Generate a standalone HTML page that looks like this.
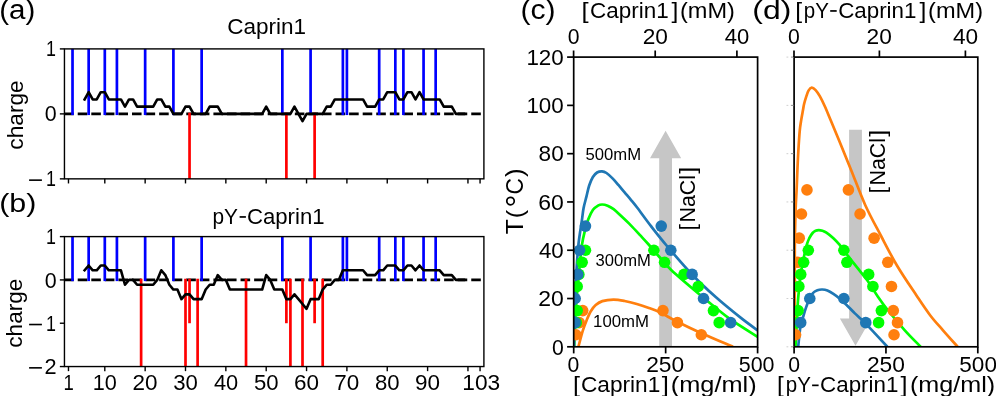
<!DOCTYPE html>
<html><head><meta charset="utf-8"><title>figure</title>
<style>
html,body{margin:0;padding:0;background:#fff;}
svg{display:block;will-change:transform;}
text{font-family:"Liberation Sans", sans-serif;fill:#000;}
</style></head>
<body>
<svg width="996" height="396" viewBox="0 0 996 396">
<rect width="996" height="396" fill="#fff"/>
<line x1="64.15" x2="483.90" y1="113.88" y2="113.88" stroke="#000" stroke-width="2.6" stroke-dasharray="9.57 4.0"/>
<line x1="72.52" x2="72.52" y1="115.08" y2="48.90" stroke="#0000ff" stroke-width="2.7"/>
<line x1="88.66" x2="88.66" y1="115.08" y2="48.90" stroke="#0000ff" stroke-width="2.7"/>
<line x1="104.80" x2="104.80" y1="115.08" y2="48.90" stroke="#0000ff" stroke-width="2.7"/>
<line x1="116.91" x2="116.91" y1="115.08" y2="48.90" stroke="#0000ff" stroke-width="2.7"/>
<line x1="145.15" x2="145.15" y1="115.08" y2="48.90" stroke="#0000ff" stroke-width="2.7"/>
<line x1="173.40" x2="173.40" y1="115.08" y2="48.90" stroke="#0000ff" stroke-width="2.7"/>
<line x1="189.54" x2="189.54" y1="112.67" y2="178.85" stroke="#ff0000" stroke-width="2.7"/>
<line x1="201.64" x2="201.64" y1="115.08" y2="48.90" stroke="#0000ff" stroke-width="2.7"/>
<line x1="282.34" x2="282.34" y1="115.08" y2="48.90" stroke="#0000ff" stroke-width="2.7"/>
<line x1="286.38" x2="286.38" y1="112.67" y2="178.85" stroke="#ff0000" stroke-width="2.7"/>
<line x1="310.59" x2="310.59" y1="115.08" y2="48.90" stroke="#0000ff" stroke-width="2.7"/>
<line x1="314.62" x2="314.62" y1="112.67" y2="178.85" stroke="#ff0000" stroke-width="2.7"/>
<line x1="342.87" x2="342.87" y1="115.08" y2="48.90" stroke="#0000ff" stroke-width="2.7"/>
<line x1="346.90" x2="346.90" y1="115.08" y2="48.90" stroke="#0000ff" stroke-width="2.7"/>
<line x1="379.18" x2="379.18" y1="115.08" y2="48.90" stroke="#0000ff" stroke-width="2.7"/>
<line x1="395.32" x2="395.32" y1="115.08" y2="48.90" stroke="#0000ff" stroke-width="2.7"/>
<line x1="403.39" x2="403.39" y1="115.08" y2="48.90" stroke="#0000ff" stroke-width="2.7"/>
<line x1="423.56" x2="423.56" y1="115.08" y2="48.90" stroke="#0000ff" stroke-width="2.7"/>
<line x1="435.67" x2="435.67" y1="115.08" y2="48.90" stroke="#0000ff" stroke-width="2.7"/>
<path d="M84.62,99.44 L88.66,92.22 L92.70,99.44 L96.73,99.44 L100.77,92.22 L104.80,92.22 L108.84,99.44 L112.87,99.44 L116.91,99.44 L120.94,99.44 L124.98,106.66 L129.01,99.44 L133.05,99.44 L137.08,106.66 L141.12,106.66 L145.15,106.66 L149.19,106.66 L153.22,106.66 L157.25,99.44 L161.29,99.44 L165.32,106.66 L169.36,106.66 L173.40,113.88 L177.43,113.88 L181.47,113.88 L185.50,106.66 L189.54,106.66 L193.57,113.88 L197.61,113.88 L201.64,113.88 L205.68,113.88 L209.71,106.66 L213.75,106.66 L217.78,106.66 L221.81,113.88 L225.85,113.88 L229.88,113.88 L233.92,113.88 L237.95,113.88 L241.99,113.88 L246.03,113.88 L250.06,113.88 L254.10,113.88 L258.13,113.88 L262.17,113.88 L266.20,106.66 L270.24,113.88 L274.27,113.88 L278.31,113.88 L282.34,113.88 L286.38,113.88 L290.41,113.88 L294.44,106.66 L298.48,113.88 L302.51,121.09 L306.55,113.88 L310.59,113.88 L314.62,113.88 L318.66,113.88 L322.69,113.88 L326.73,106.66 L330.76,106.66 L334.80,99.44 L338.83,99.44 L342.87,99.44 L346.90,99.44 L350.94,99.44 L354.97,99.44 L359.00,99.44 L363.04,99.44 L367.07,106.66 L371.11,106.66 L375.14,106.66 L379.18,99.44 L383.21,99.44 L387.25,92.22 L391.29,92.22 L395.32,92.22 L399.36,99.44 L403.39,99.44 L407.43,92.22 L411.46,92.22 L415.50,99.44 L419.53,92.22 L423.56,99.44 L427.60,99.44 L431.63,99.44 L435.67,99.44 L439.70,99.44 L443.74,106.66 L447.77,106.66 L451.81,106.66 L455.85,113.88 L459.88,113.88 L463.92,113.88" fill="none" stroke="#000" stroke-width="2.6" stroke-linejoin="round" stroke-linecap="square"/>
<rect x="64.45" y="48.90" width="419.45" height="129.95" fill="none" stroke="#000" stroke-width="1.4"/>
<line x1="59.85" x2="64.45" y1="48.90" y2="48.90" stroke="#000" stroke-width="1.4"/>
<line x1="59.85" x2="64.45" y1="113.88" y2="113.88" stroke="#000" stroke-width="1.4"/>
<line x1="59.85" x2="64.45" y1="178.85" y2="178.85" stroke="#000" stroke-width="1.4"/>
<line x1="68.48" x2="68.48" y1="178.85" y2="183.45" stroke="#000" stroke-width="1.4"/>
<line x1="104.80" x2="104.80" y1="178.85" y2="183.45" stroke="#000" stroke-width="1.4"/>
<line x1="145.15" x2="145.15" y1="178.85" y2="183.45" stroke="#000" stroke-width="1.4"/>
<line x1="185.50" x2="185.50" y1="178.85" y2="183.45" stroke="#000" stroke-width="1.4"/>
<line x1="225.85" x2="225.85" y1="178.85" y2="183.45" stroke="#000" stroke-width="1.4"/>
<line x1="266.20" x2="266.20" y1="178.85" y2="183.45" stroke="#000" stroke-width="1.4"/>
<line x1="306.55" x2="306.55" y1="178.85" y2="183.45" stroke="#000" stroke-width="1.4"/>
<line x1="346.90" x2="346.90" y1="178.85" y2="183.45" stroke="#000" stroke-width="1.4"/>
<line x1="387.25" x2="387.25" y1="178.85" y2="183.45" stroke="#000" stroke-width="1.4"/>
<line x1="427.60" x2="427.60" y1="178.85" y2="183.45" stroke="#000" stroke-width="1.4"/>
<line x1="467.95" x2="467.95" y1="178.85" y2="183.45" stroke="#000" stroke-width="1.4"/>
<line x1="480.06" x2="480.06" y1="178.85" y2="183.45" stroke="#000" stroke-width="1.4"/>
<line x1="64.15" x2="483.90" y1="279.92" y2="279.92" stroke="#000" stroke-width="2.6" stroke-dasharray="9.57 4.0"/>
<line x1="72.52" x2="72.52" y1="281.12" y2="236.60" stroke="#0000ff" stroke-width="2.7"/>
<line x1="88.66" x2="88.66" y1="281.12" y2="236.60" stroke="#0000ff" stroke-width="2.7"/>
<line x1="104.80" x2="104.80" y1="281.12" y2="236.60" stroke="#0000ff" stroke-width="2.7"/>
<line x1="116.91" x2="116.91" y1="281.12" y2="236.60" stroke="#0000ff" stroke-width="2.7"/>
<line x1="141.12" x2="141.12" y1="278.72" y2="366.55" stroke="#ff0000" stroke-width="2.7"/>
<line x1="145.15" x2="145.15" y1="281.12" y2="236.60" stroke="#0000ff" stroke-width="2.7"/>
<line x1="173.40" x2="173.40" y1="281.12" y2="236.60" stroke="#0000ff" stroke-width="2.7"/>
<line x1="185.50" x2="185.50" y1="278.72" y2="366.55" stroke="#ff0000" stroke-width="2.7"/>
<line x1="189.54" x2="189.54" y1="278.72" y2="323.23" stroke="#ff0000" stroke-width="2.7"/>
<line x1="197.61" x2="197.61" y1="278.72" y2="366.55" stroke="#ff0000" stroke-width="2.7"/>
<line x1="201.64" x2="201.64" y1="281.12" y2="236.60" stroke="#0000ff" stroke-width="2.7"/>
<line x1="246.03" x2="246.03" y1="278.72" y2="366.55" stroke="#ff0000" stroke-width="2.7"/>
<line x1="282.34" x2="282.34" y1="281.12" y2="236.60" stroke="#0000ff" stroke-width="2.7"/>
<line x1="286.38" x2="286.38" y1="278.72" y2="323.23" stroke="#ff0000" stroke-width="2.7"/>
<line x1="290.41" x2="290.41" y1="278.72" y2="366.55" stroke="#ff0000" stroke-width="2.7"/>
<line x1="302.51" x2="302.51" y1="278.72" y2="366.55" stroke="#ff0000" stroke-width="2.7"/>
<line x1="310.59" x2="310.59" y1="281.12" y2="236.60" stroke="#0000ff" stroke-width="2.7"/>
<line x1="314.62" x2="314.62" y1="278.72" y2="323.23" stroke="#ff0000" stroke-width="2.7"/>
<line x1="322.69" x2="322.69" y1="278.72" y2="366.55" stroke="#ff0000" stroke-width="2.7"/>
<line x1="342.87" x2="342.87" y1="281.12" y2="236.60" stroke="#0000ff" stroke-width="2.7"/>
<line x1="346.90" x2="346.90" y1="281.12" y2="236.60" stroke="#0000ff" stroke-width="2.7"/>
<line x1="379.18" x2="379.18" y1="281.12" y2="236.60" stroke="#0000ff" stroke-width="2.7"/>
<line x1="395.32" x2="395.32" y1="281.12" y2="236.60" stroke="#0000ff" stroke-width="2.7"/>
<line x1="403.39" x2="403.39" y1="281.12" y2="236.60" stroke="#0000ff" stroke-width="2.7"/>
<line x1="423.56" x2="423.56" y1="281.12" y2="236.60" stroke="#0000ff" stroke-width="2.7"/>
<line x1="435.67" x2="435.67" y1="281.12" y2="236.60" stroke="#0000ff" stroke-width="2.7"/>
<path d="M84.62,270.29 L88.66,265.48 L92.70,270.29 L96.73,270.29 L100.77,265.48 L104.80,265.48 L108.84,270.29 L112.87,270.29 L116.91,270.29 L120.94,270.29 L124.98,284.73 L129.01,279.92 L133.05,279.92 L137.08,284.73 L141.12,284.73 L145.15,284.73 L149.19,284.73 L153.22,284.73 L157.25,279.92 L161.29,270.29 L165.32,275.10 L169.36,284.73 L173.40,289.54 L177.43,289.54 L181.47,299.17 L185.50,294.36 L189.54,294.36 L193.57,299.17 L197.61,299.17 L201.64,299.17 L205.68,289.54 L209.71,284.73 L213.75,284.73 L217.78,275.10 L221.81,279.92 L225.85,279.92 L229.88,289.54 L233.92,289.54 L237.95,289.54 L241.99,289.54 L246.03,289.54 L250.06,289.54 L254.10,289.54 L258.13,289.54 L262.17,289.54 L266.20,275.10 L270.24,279.92 L274.27,289.54 L278.31,289.54 L282.34,289.54 L286.38,299.17 L290.41,299.17 L294.44,294.36 L298.48,299.17 L302.51,303.98 L306.55,308.79 L310.59,299.17 L314.62,299.17 L318.66,299.17 L322.69,289.54 L326.73,284.73 L330.76,284.73 L334.80,279.92 L338.83,279.92 L342.87,270.29 L346.90,270.29 L350.94,270.29 L354.97,270.29 L359.00,270.29 L363.04,270.29 L367.07,275.10 L371.11,275.10 L375.14,275.10 L379.18,270.29 L383.21,270.29 L387.25,265.48 L391.29,265.48 L395.32,265.48 L399.36,270.29 L403.39,270.29 L407.43,265.48 L411.46,265.48 L415.50,270.29 L419.53,265.48 L423.56,270.29 L427.60,270.29 L431.63,270.29 L435.67,270.29 L439.70,270.29 L443.74,275.10 L447.77,275.10 L451.81,275.10 L455.85,279.92 L459.88,279.92 L463.92,279.92" fill="none" stroke="#000" stroke-width="2.6" stroke-linejoin="round" stroke-linecap="square"/>
<rect x="64.45" y="236.60" width="419.45" height="129.95" fill="none" stroke="#000" stroke-width="1.4"/>
<line x1="59.85" x2="64.45" y1="236.60" y2="236.60" stroke="#000" stroke-width="1.4"/>
<line x1="59.85" x2="64.45" y1="279.92" y2="279.92" stroke="#000" stroke-width="1.4"/>
<line x1="59.85" x2="64.45" y1="323.23" y2="323.23" stroke="#000" stroke-width="1.4"/>
<line x1="59.85" x2="64.45" y1="366.55" y2="366.55" stroke="#000" stroke-width="1.4"/>
<line x1="68.48" x2="68.48" y1="366.55" y2="371.15" stroke="#000" stroke-width="1.4"/>
<line x1="104.80" x2="104.80" y1="366.55" y2="371.15" stroke="#000" stroke-width="1.4"/>
<line x1="145.15" x2="145.15" y1="366.55" y2="371.15" stroke="#000" stroke-width="1.4"/>
<line x1="185.50" x2="185.50" y1="366.55" y2="371.15" stroke="#000" stroke-width="1.4"/>
<line x1="225.85" x2="225.85" y1="366.55" y2="371.15" stroke="#000" stroke-width="1.4"/>
<line x1="266.20" x2="266.20" y1="366.55" y2="371.15" stroke="#000" stroke-width="1.4"/>
<line x1="306.55" x2="306.55" y1="366.55" y2="371.15" stroke="#000" stroke-width="1.4"/>
<line x1="346.90" x2="346.90" y1="366.55" y2="371.15" stroke="#000" stroke-width="1.4"/>
<line x1="387.25" x2="387.25" y1="366.55" y2="371.15" stroke="#000" stroke-width="1.4"/>
<line x1="427.60" x2="427.60" y1="366.55" y2="371.15" stroke="#000" stroke-width="1.4"/>
<line x1="467.95" x2="467.95" y1="366.55" y2="371.15" stroke="#000" stroke-width="1.4"/>
<line x1="480.06" x2="480.06" y1="366.55" y2="371.15" stroke="#000" stroke-width="1.4"/>
<rect x="29.1" y="179.35" width="12.8" height="1.6" fill="#000"/>
<rect x="29.1" y="323.73" width="12.8" height="1.6" fill="#000"/>
<rect x="29.1" y="367.05" width="12.8" height="1.6" fill="#000"/>
<rect x="239.60" y="216.10" width="6.30" height="1.7" fill="#000"/>
<clipPath id="clipc"><rect x="573.70" y="57.10" width="183.90" height="289.70"/></clipPath>
<g clip-path="url(#clipc)">
<polygon points="659.20,348.80 659.20,158.20 650.00,158.20 665.60,130.80 681.20,158.20 672.00,158.20 672.00,348.80" fill="#c6c6c6"/>
<path d="M578.40,346.80 C579.13,344.10 581.40,335.10 582.80,330.60 C584.20,326.10 585.47,323.03 586.80,319.80 C588.13,316.57 589.32,313.65 590.80,311.20 C592.28,308.75 593.77,306.78 595.70,305.10 C597.63,303.42 599.43,302.02 602.40,301.10 C605.37,300.18 609.80,299.62 613.50,299.60 C617.20,299.58 620.72,300.27 624.60,301.00 C628.48,301.73 632.75,302.83 636.80,304.00 C640.85,305.17 645.03,306.60 648.90,308.00 C652.77,309.40 655.27,310.10 660.00,312.40 C664.73,314.70 670.48,318.37 677.30,321.80 C684.12,325.23 691.62,328.83 700.90,333.00 C710.18,337.17 727.65,344.50 733.00,346.80" fill="none" stroke="#ff7f0e" stroke-width="2.7"/>
<path d="M574.20,346.80 C574.37,342.33 574.82,327.80 575.20,320.00 C575.58,312.20 575.97,306.67 576.50,300.00 C577.03,293.33 577.78,286.67 578.40,280.00 C579.02,273.33 579.58,266.00 580.20,260.00 C580.82,254.00 581.38,248.60 582.10,244.00 C582.82,239.40 583.47,236.52 584.50,232.40 C585.53,228.28 586.88,223.07 588.30,219.30 C589.72,215.53 591.40,212.07 593.00,209.80 C594.60,207.53 596.38,206.58 597.90,205.70 C599.42,204.82 600.48,204.50 602.10,204.50 C603.72,204.50 605.68,204.92 607.60,205.70 C609.52,206.48 611.38,207.52 613.60,209.20 C615.82,210.88 618.07,213.15 620.90,215.80 C623.73,218.45 627.37,221.83 630.60,225.10 C633.83,228.37 637.37,232.25 640.30,235.40 C643.23,238.55 645.08,240.48 648.20,244.00 C651.32,247.52 655.17,252.17 659.00,256.50 C662.83,260.83 664.53,263.75 671.20,270.00 C677.87,276.25 689.40,285.97 699.00,294.00 C708.60,302.03 719.03,311.07 728.80,318.20 C738.57,325.33 752.80,333.70 757.60,336.80" fill="none" stroke="#00ff00" stroke-width="2.7"/>
<path d="M574.00,346.80 C574.17,339.00 574.58,312.80 575.00,300.00 C575.42,287.20 575.92,279.33 576.50,270.00 C577.08,260.67 577.62,252.17 578.50,244.00 C579.38,235.83 580.95,227.00 581.80,221.00 C582.65,215.00 582.82,212.10 583.60,208.00 C584.38,203.90 585.57,200.15 586.50,196.40 C587.43,192.65 588.13,188.73 589.20,185.50 C590.27,182.27 591.58,179.17 592.90,177.00 C594.22,174.83 595.58,173.45 597.10,172.50 C598.62,171.55 600.43,171.22 602.00,171.30 C603.57,171.38 604.70,171.78 606.50,173.00 C608.30,174.22 610.78,176.57 612.80,178.60 C614.82,180.63 616.63,182.90 618.60,185.20 C620.57,187.50 622.58,190.00 624.60,192.40 C626.62,194.80 628.58,197.03 630.70,199.60 C632.82,202.17 633.92,203.38 637.30,207.80 C640.68,212.22 646.05,219.73 651.00,226.10 C655.95,232.47 660.20,237.98 667.00,246.00 C673.80,254.02 683.63,265.65 691.80,274.20 C699.97,282.75 707.82,290.02 716.00,297.30 C724.18,304.58 733.97,312.40 740.90,317.90 C747.83,323.40 754.82,328.23 757.60,330.30" fill="none" stroke="#1f77b4" stroke-width="2.7"/>
<circle cx="582.71" cy="310.59" r="5.8" fill="#ff7f0e"/>
<circle cx="579.22" cy="322.66" r="5.8" fill="#ff7f0e"/>
<circle cx="575.91" cy="334.73" r="5.8" fill="#ff7f0e"/>
<circle cx="585.47" cy="250.23" r="5.8" fill="#00ff00"/>
<circle cx="582.16" cy="262.30" r="5.8" fill="#00ff00"/>
<circle cx="578.85" cy="274.38" r="5.8" fill="#00ff00"/>
<circle cx="577.19" cy="286.45" r="5.8" fill="#00ff00"/>
<circle cx="577.19" cy="310.59" r="5.8" fill="#00ff00"/>
<circle cx="576.27" cy="322.66" r="5.8" fill="#00ff00"/>
<circle cx="585.47" cy="226.09" r="5.8" fill="#1f77b4"/>
<circle cx="579.58" cy="250.23" r="5.8" fill="#1f77b4"/>
<circle cx="577.75" cy="274.38" r="5.8" fill="#1f77b4"/>
<circle cx="575.17" cy="298.52" r="5.8" fill="#1f77b4"/>
<circle cx="575.17" cy="322.66" r="5.8" fill="#1f77b4"/>
<circle cx="662.93" cy="310.59" r="5.8" fill="#ff7f0e"/>
<circle cx="677.42" cy="322.66" r="5.8" fill="#ff7f0e"/>
<circle cx="701.33" cy="334.73" r="5.8" fill="#ff7f0e"/>
<circle cx="653.88" cy="250.23" r="5.8" fill="#00ff00"/>
<circle cx="664.55" cy="262.30" r="5.8" fill="#00ff00"/>
<circle cx="684.04" cy="274.38" r="5.8" fill="#00ff00"/>
<circle cx="698.24" cy="286.45" r="5.8" fill="#00ff00"/>
<circle cx="713.46" cy="310.59" r="5.8" fill="#00ff00"/>
<circle cx="719.20" cy="322.66" r="5.8" fill="#00ff00"/>
<circle cx="661.24" cy="226.09" r="5.8" fill="#1f77b4"/>
<circle cx="670.80" cy="250.23" r="5.8" fill="#1f77b4"/>
<circle cx="692.13" cy="274.38" r="5.8" fill="#1f77b4"/>
<circle cx="703.53" cy="298.52" r="5.8" fill="#1f77b4"/>
<circle cx="730.64" cy="322.66" r="5.8" fill="#1f77b4"/>
</g>
<rect x="573.70" y="57.10" width="183.90" height="289.70" fill="none" stroke="#000" stroke-width="1.7"/>
<clipPath id="clipd"><rect x="794.10" y="57.10" width="183.70" height="289.70"/></clipPath>
<g clip-path="url(#clipd)">
<polygon points="849.10,129.80 849.10,318.40 839.90,318.40 855.50,345.80 871.10,318.40 861.90,318.40 861.90,129.80" fill="#c6c6c6"/>
<path d="M794.70,346.70 C794.72,330.58 794.65,272.78 794.80,250.00 C794.95,227.22 795.30,220.00 795.60,210.00 C795.90,200.00 796.30,196.63 796.60,190.00 C796.90,183.37 797.10,176.87 797.40,170.20 C797.70,163.53 798.00,156.67 798.40,150.00 C798.80,143.33 799.33,135.18 799.80,130.20 C800.27,125.22 800.67,123.47 801.20,120.10 C801.73,116.73 802.52,112.68 803.00,110.00 C803.48,107.32 803.53,106.30 804.10,104.00 C804.67,101.70 805.67,98.43 806.40,96.20 C807.13,93.97 807.62,92.03 808.50,90.60 C809.38,89.17 810.52,87.68 811.70,87.60 C812.88,87.52 814.25,88.67 815.60,90.10 C816.95,91.53 818.27,93.50 819.80,96.20 C821.33,98.90 823.00,102.32 824.80,106.30 C826.60,110.28 828.23,114.43 830.60,120.10 C832.97,125.77 835.57,131.95 839.00,140.30 C842.43,148.65 846.82,159.38 851.20,170.20 C855.58,181.02 860.37,194.32 865.30,205.20 C870.23,216.08 875.55,225.50 880.80,235.50 C886.05,245.50 890.85,255.20 896.80,265.20 C902.75,275.20 910.95,287.17 916.50,295.50 C922.05,303.83 925.68,309.40 930.10,315.20 C934.52,321.00 938.42,325.05 943.00,330.30 C947.58,335.55 955.17,343.97 957.60,346.70" fill="none" stroke="#ff7f0e" stroke-width="2.7"/>
<path d="M795.50,346.70 C795.82,340.58 796.92,318.53 797.40,310.00 C797.88,301.47 797.83,301.50 798.40,295.50 C798.97,289.50 799.98,279.92 800.80,274.00 C801.62,268.08 802.33,264.78 803.30,260.00 C804.27,255.22 805.60,248.93 806.60,245.30 C807.60,241.67 808.30,240.25 809.30,238.20 C810.30,236.15 811.55,234.23 812.60,233.00 C813.65,231.77 814.57,231.28 815.60,230.80 C816.63,230.32 817.65,230.10 818.80,230.10 C819.95,230.10 821.23,230.38 822.50,230.80 C823.77,231.22 824.58,231.37 826.40,232.60 C828.22,233.83 831.22,236.18 833.40,238.20 C835.58,240.22 836.65,241.22 839.50,244.70 C842.35,248.18 845.88,253.17 850.50,259.10 C855.12,265.03 862.77,274.23 867.20,280.30 C871.63,286.37 873.68,290.55 877.10,295.50 C880.52,300.45 883.08,304.20 887.70,310.00 C892.32,315.80 899.32,324.18 904.80,330.30 C910.28,336.42 917.97,343.97 920.60,346.70" fill="none" stroke="#00ff00" stroke-width="2.7"/>
<path d="M798.20,346.70 C798.58,343.25 799.63,331.12 800.50,326.00 C801.37,320.88 802.48,319.07 803.40,316.00 C804.32,312.93 805.07,310.23 806.00,307.60 C806.93,304.97 807.83,302.63 809.00,300.20 C810.17,297.77 811.60,294.67 813.00,293.00 C814.40,291.33 815.85,290.78 817.40,290.20 C818.95,289.62 820.63,289.45 822.30,289.50 C823.97,289.55 825.55,289.77 827.40,290.50 C829.25,291.23 831.38,292.57 833.40,293.90 C835.42,295.23 837.30,296.65 839.50,298.50 C841.70,300.35 844.08,302.57 846.60,305.00 C849.12,307.43 852.25,310.82 854.60,313.10 C856.95,315.38 858.83,316.95 860.70,318.70 C862.57,320.45 861.37,318.93 865.80,323.60 C870.23,328.27 883.72,342.85 887.30,346.70" fill="none" stroke="#1f77b4" stroke-width="2.7"/>
<circle cx="806.96" cy="189.88" r="5.8" fill="#ff7f0e"/>
<circle cx="801.45" cy="214.02" r="5.8" fill="#ff7f0e"/>
<circle cx="799.24" cy="238.16" r="5.8" fill="#ff7f0e"/>
<circle cx="797.77" cy="262.30" r="5.8" fill="#ff7f0e"/>
<circle cx="796.30" cy="286.45" r="5.8" fill="#ff7f0e"/>
<circle cx="795.57" cy="310.59" r="5.8" fill="#ff7f0e"/>
<circle cx="795.20" cy="322.66" r="5.8" fill="#ff7f0e"/>
<circle cx="795.57" cy="334.73" r="5.8" fill="#ff7f0e"/>
<circle cx="808.32" cy="250.23" r="5.8" fill="#00ff00"/>
<circle cx="803.65" cy="262.30" r="5.8" fill="#00ff00"/>
<circle cx="800.71" cy="274.38" r="5.8" fill="#00ff00"/>
<circle cx="798.88" cy="286.45" r="5.8" fill="#00ff00"/>
<circle cx="798.14" cy="310.59" r="5.8" fill="#00ff00"/>
<circle cx="797.41" cy="322.66" r="5.8" fill="#00ff00"/>
<circle cx="809.79" cy="298.52" r="5.8" fill="#1f77b4"/>
<circle cx="800.71" cy="322.66" r="5.8" fill="#1f77b4"/>
<circle cx="843.88" cy="298.52" r="5.8" fill="#1f77b4"/>
<circle cx="865.74" cy="322.66" r="5.8" fill="#1f77b4"/>
<circle cx="843.88" cy="250.23" r="5.8" fill="#00ff00"/>
<circle cx="846.90" cy="262.30" r="5.8" fill="#00ff00"/>
<circle cx="868.68" cy="274.38" r="5.8" fill="#00ff00"/>
<circle cx="872.91" cy="286.45" r="5.8" fill="#00ff00"/>
<circle cx="881.36" cy="310.59" r="5.8" fill="#00ff00"/>
<circle cx="878.60" cy="322.66" r="5.8" fill="#00ff00"/>
<circle cx="848.40" cy="189.88" r="5.8" fill="#ff7f0e"/>
<circle cx="860.05" cy="214.02" r="5.8" fill="#ff7f0e"/>
<circle cx="874.12" cy="238.16" r="5.8" fill="#ff7f0e"/>
<circle cx="887.79" cy="262.30" r="5.8" fill="#ff7f0e"/>
<circle cx="891.46" cy="286.45" r="5.8" fill="#ff7f0e"/>
<circle cx="893.30" cy="310.59" r="5.8" fill="#ff7f0e"/>
<circle cx="897.52" cy="322.66" r="5.8" fill="#ff7f0e"/>
<circle cx="894.03" cy="334.73" r="5.8" fill="#ff7f0e"/>
</g>
<rect x="794.10" y="57.10" width="183.70" height="289.70" fill="none" stroke="#000" stroke-width="1.7"/>
<line x1="567.10" x2="573.70" y1="346.80" y2="346.80" stroke="#000" stroke-width="1.7"/>
<line x1="790.90" x2="794.10" y1="346.80" y2="346.80" stroke="#777" stroke-width="0.8"/>
<line x1="786.50" x2="788.30" y1="346.80" y2="346.80" stroke="#c4c4c4" stroke-width="0.8"/>
<line x1="567.10" x2="573.70" y1="298.52" y2="298.52" stroke="#000" stroke-width="1.7"/>
<line x1="790.90" x2="794.10" y1="298.52" y2="298.52" stroke="#777" stroke-width="0.8"/>
<line x1="786.50" x2="788.30" y1="298.52" y2="298.52" stroke="#c4c4c4" stroke-width="0.8"/>
<line x1="567.10" x2="573.70" y1="250.23" y2="250.23" stroke="#000" stroke-width="1.7"/>
<line x1="790.90" x2="794.10" y1="250.23" y2="250.23" stroke="#777" stroke-width="0.8"/>
<line x1="786.50" x2="788.30" y1="250.23" y2="250.23" stroke="#c4c4c4" stroke-width="0.8"/>
<line x1="567.10" x2="573.70" y1="201.95" y2="201.95" stroke="#000" stroke-width="1.7"/>
<line x1="790.90" x2="794.10" y1="201.95" y2="201.95" stroke="#777" stroke-width="0.8"/>
<line x1="786.50" x2="788.30" y1="201.95" y2="201.95" stroke="#c4c4c4" stroke-width="0.8"/>
<line x1="567.10" x2="573.70" y1="153.67" y2="153.67" stroke="#000" stroke-width="1.7"/>
<line x1="790.90" x2="794.10" y1="153.67" y2="153.67" stroke="#777" stroke-width="0.8"/>
<line x1="786.50" x2="788.30" y1="153.67" y2="153.67" stroke="#c4c4c4" stroke-width="0.8"/>
<line x1="567.10" x2="573.70" y1="105.38" y2="105.38" stroke="#000" stroke-width="1.7"/>
<line x1="790.90" x2="794.10" y1="105.38" y2="105.38" stroke="#777" stroke-width="0.8"/>
<line x1="786.50" x2="788.30" y1="105.38" y2="105.38" stroke="#c4c4c4" stroke-width="0.8"/>
<line x1="567.10" x2="573.70" y1="57.10" y2="57.10" stroke="#000" stroke-width="1.7"/>
<line x1="790.90" x2="794.10" y1="57.10" y2="57.10" stroke="#777" stroke-width="0.8"/>
<line x1="786.50" x2="788.30" y1="57.10" y2="57.10" stroke="#c4c4c4" stroke-width="0.8"/>
<line x1="573.70" x2="573.70" y1="346.80" y2="353.40" stroke="#000" stroke-width="1.7"/>
<line x1="665.65" x2="665.65" y1="346.80" y2="353.40" stroke="#000" stroke-width="1.7"/>
<line x1="757.60" x2="757.60" y1="346.80" y2="353.40" stroke="#000" stroke-width="1.7"/>
<line x1="573.60" x2="573.60" y1="50.50" y2="57.10" stroke="#000" stroke-width="1.7"/>
<line x1="655.20" x2="655.20" y1="50.50" y2="57.10" stroke="#000" stroke-width="1.7"/>
<line x1="736.90" x2="736.90" y1="50.50" y2="57.10" stroke="#000" stroke-width="1.7"/>
<line x1="794.10" x2="794.10" y1="346.80" y2="353.40" stroke="#000" stroke-width="1.7"/>
<line x1="885.95" x2="885.95" y1="346.80" y2="353.40" stroke="#000" stroke-width="1.7"/>
<line x1="977.80" x2="977.80" y1="346.80" y2="353.40" stroke="#000" stroke-width="1.7"/>
<line x1="794.00" x2="794.00" y1="50.50" y2="57.10" stroke="#000" stroke-width="1.7"/>
<line x1="879.40" x2="879.40" y1="50.50" y2="57.10" stroke="#000" stroke-width="1.7"/>
<line x1="965.40" x2="965.40" y1="50.50" y2="57.10" stroke="#000" stroke-width="1.7"/>
<rect x="830.20" y="10.10" width="6.50" height="1.7" fill="#000"/>
<rect x="812.10" y="384.50" width="6.50" height="1.7" fill="#000"/>
<circle cx="510.5" cy="201.1" r="3.75" fill="none" stroke="#000" stroke-width="1.7"/>
<text transform="translate(47.00,56.40) scale(0.7772,1)" x="-1.438" y="0" font-size="23.0">1</text>
<text transform="translate(45.30,121.47) scale(0.9862,1)" x="-0.678" y="0" font-size="21.7">0</text>
<text transform="translate(47.00,186.35) scale(0.7772,1)" x="-1.438" y="0" font-size="23.0">1</text>
<text transform="translate(47.00,244.30) scale(0.7772,1)" x="-1.438" y="0" font-size="23.0">1</text>
<text transform="translate(45.30,287.72) scale(0.9862,1)" x="-0.678" y="0" font-size="21.7">0</text>
<text transform="translate(47.00,330.93) scale(0.7772,1)" x="-1.438" y="0" font-size="23.0">1</text>
<text transform="translate(45.60,374.35) scale(0.9758,1)" x="-1.045" y="0" font-size="22.3">2</text>
<text transform="translate(64.70,389.50) scale(0.8203,1)" x="-1.413" y="0" font-size="22.6">1</text>
<text transform="translate(94.00,389.50) scale(0.9627,1)" x="-1.406" y="0" font-size="22.5">10</text>
<text transform="translate(133.55,389.50) scale(0.9951,1)" x="-1.059" y="0" font-size="22.6">20</text>
<text transform="translate(173.90,389.50) scale(0.9803,1)" x="-0.706" y="0" font-size="22.6">30</text>
<text transform="translate(214.25,389.50) scale(0.9661,1)" x="-0.353" y="0" font-size="22.6">40</text>
<text transform="translate(254.60,389.50) scale(0.9803,1)" x="-0.706" y="0" font-size="22.6">50</text>
<text transform="translate(294.95,389.50) scale(0.9951,1)" x="-1.059" y="0" font-size="22.6">60</text>
<text transform="translate(335.30,389.50) scale(0.9951,1)" x="-1.059" y="0" font-size="22.6">70</text>
<text transform="translate(375.65,389.50) scale(0.9803,1)" x="-0.706" y="0" font-size="22.6">80</text>
<text transform="translate(416.00,389.50) scale(0.9951,1)" x="-1.059" y="0" font-size="22.6">90</text>
<text transform="translate(463.70,389.50) scale(1.0063,1)" x="-1.413" y="0" font-size="22.6">103</text>
<text transform="translate(22.80,149.00) rotate(-90) scale(0.9959,1)" x="-0.713" y="0" font-size="22.8">charge</text>
<text transform="translate(22.40,347.00) rotate(-90) scale(0.9915,1)" x="-0.713" y="0" font-size="22.8">charge</text>
<text transform="translate(228.20,33.90) scale(1.0331,1)" x="-1.022" y="0" font-size="21.8">Caprin1</text>
<text transform="translate(213.80,223.60) scale(0.9663,1)" x="-1.350" y="0" font-size="21.6">pY</text>
<text transform="translate(248.00,223.60) scale(1.0264,1)" x="-1.013" y="0" font-size="21.6">Caprin1</text>
<text transform="translate(0.60,19.20) scale(1.0706,1)" x="-1.294" y="0" font-size="27.6">(a)</text>
<text transform="translate(0.60,211.90) scale(1.1443,1)" x="-1.247" y="0" font-size="26.6">(b)</text>
<text transform="translate(521.80,19.30) scale(1.0930,1)" x="-1.294" y="0" font-size="27.6">(c)</text>
<text transform="translate(753.80,19.10) scale(1.1979,1)" x="-1.247" y="0" font-size="26.6">(d)</text>
<text transform="translate(527.80,64.80) scale(0.9863,1)" x="-1.419" y="0" font-size="22.7">120</text>
<text transform="translate(527.80,113.08) scale(0.9863,1)" x="-1.419" y="0" font-size="22.7">100</text>
<text transform="translate(539.30,161.37) scale(0.9969,1)" x="-0.709" y="0" font-size="22.7">80</text>
<text transform="translate(539.30,209.65) scale(1.0119,1)" x="-1.064" y="0" font-size="22.7">60</text>
<text transform="translate(539.30,257.93) scale(0.9824,1)" x="-0.355" y="0" font-size="22.7">40</text>
<text transform="translate(539.30,306.22) scale(1.0119,1)" x="-1.064" y="0" font-size="22.7">20</text>
<text transform="translate(552.60,354.50) scale(0.9339,1)" x="-0.709" y="0" font-size="22.7">0</text>
<text transform="translate(568.30,43.80) scale(0.9339,1)" x="-0.709" y="0" font-size="22.7">0</text>
<text transform="translate(643.80,43.80) scale(0.9992,1)" x="-1.064" y="0" font-size="22.7">20</text>
<text transform="translate(725.20,43.80) scale(0.9700,1)" x="-0.355" y="0" font-size="22.7">40</text>
<text transform="translate(788.60,43.80) scale(0.9339,1)" x="-0.709" y="0" font-size="22.7">0</text>
<text transform="translate(867.60,43.80) scale(0.9992,1)" x="-1.064" y="0" font-size="22.7">20</text>
<text transform="translate(953.30,43.80) scale(0.9988,1)" x="-0.355" y="0" font-size="22.7">40</text>
<text transform="translate(568.20,372.25) scale(0.9339,1)" x="-0.709" y="0" font-size="22.7">0</text>
<text transform="translate(647.20,372.25) scale(1.0043,1)" x="-1.064" y="0" font-size="22.7">250</text>
<text transform="translate(739.40,372.25) scale(0.9454,1)" x="-0.709" y="0" font-size="22.7">500</text>
<text transform="translate(788.80,372.25) scale(0.9339,1)" x="-0.709" y="0" font-size="22.7">0</text>
<text transform="translate(868.00,372.25) scale(1.0043,1)" x="-1.064" y="0" font-size="22.7">250</text>
<text transform="translate(960.00,372.25) scale(0.9946,1)" x="-0.709" y="0" font-size="22.7">500</text>
<text transform="translate(583.00,17.60) scale(1.2075,1)" x="-1.325" y="0" font-size="21.2">[</text>
<text transform="translate(591.10,17.60) scale(1.0596,1)" x="-0.994" y="0" font-size="21.2">Caprin1</text>
<text transform="translate(671.40,17.60) scale(1.1644,1)" x="0.000" y="0" font-size="21.2">]</text>
<text transform="translate(681.10,17.60) scale(1.1130,1)" x="-0.994" y="0" font-size="21.2">(mM)</text>
<text transform="translate(796.80,17.60) scale(1.1644,1)" x="-1.325" y="0" font-size="21.2">[</text>
<text transform="translate(805.10,17.60) scale(0.9681,1)" x="-1.325" y="0" font-size="21.2">pY</text>
<text transform="translate(839.20,17.60) scale(1.0554,1)" x="-0.994" y="0" font-size="21.2">Caprin1</text>
<text transform="translate(919.40,17.60) scale(1.1644,1)" x="0.000" y="0" font-size="21.2">]</text>
<text transform="translate(929.20,17.60) scale(1.1130,1)" x="-0.994" y="0" font-size="21.2">(mM)</text>
<text transform="translate(574.50,392.00) scale(1.1860,1)" x="-1.325" y="0" font-size="21.2">[</text>
<text transform="translate(582.00,392.00) scale(1.0692,1)" x="-0.994" y="0" font-size="21.2">Caprin1</text>
<text transform="translate(661.80,392.00) scale(1.2075,1)" x="0.000" y="0" font-size="21.2">]</text>
<text transform="translate(672.00,392.00) scale(1.1959,1)" x="-0.994" y="0" font-size="21.2">(mg/ml)</text>
<text transform="translate(778.50,392.00) scale(1.1429,1)" x="-1.325" y="0" font-size="21.2">[</text>
<text transform="translate(787.00,392.00) scale(0.9681,1)" x="-1.325" y="0" font-size="21.2">pY</text>
<text transform="translate(821.10,392.00) scale(1.0554,1)" x="-0.994" y="0" font-size="21.2">Caprin1</text>
<text transform="translate(900.50,392.00) scale(1.1860,1)" x="0.000" y="0" font-size="21.2">]</text>
<text transform="translate(911.10,392.00) scale(1.1873,1)" x="-0.994" y="0" font-size="21.2">(mg/ml)</text>
<text transform="translate(523.30,233.80) rotate(-90) scale(1.0234,1)" x="-0.375" y="0" font-size="24.0">T</text>
<text transform="translate(523.30,217.00) rotate(-90) scale(1.0519,1)" x="-1.125" y="0" font-size="24.0">(</text>
<text transform="translate(523.30,193.50) rotate(-90) scale(0.9496,1)" x="-1.125" y="0" font-size="24.0">C</text>
<text transform="translate(523.30,176.90) rotate(-90) scale(1.0815,1)" x="0.000" y="0" font-size="24.0">)</text>
<text transform="translate(694.90,229.20) rotate(-90) scale(1.0582,1)" x="-1.350" y="0" font-size="21.6">[</text>
<text transform="translate(694.90,220.80) rotate(-90) scale(0.9889,1)" x="-1.688" y="0" font-size="21.6">NaCl</text>
<text transform="translate(694.90,173.80) rotate(-90) scale(1.1852,1)" x="0.000" y="0" font-size="21.6">]</text>
<text transform="translate(884.70,192.20) rotate(-90) scale(1.0582,1)" x="-1.350" y="0" font-size="21.6">[</text>
<text transform="translate(884.70,183.80) rotate(-90) scale(0.9889,1)" x="-1.688" y="0" font-size="21.6">NaCl</text>
<text transform="translate(884.70,136.80) rotate(-90) scale(1.1852,1)" x="0.000" y="0" font-size="21.6">]</text>
<text transform="translate(586.00,159.90) scale(0.9875,1)" x="-0.528" y="0" font-size="16.9">500mM</text>
<text transform="translate(596.00,265.50) scale(0.9838,1)" x="-0.528" y="0" font-size="16.9">300mM</text>
<text transform="translate(594.10,327.40) scale(0.9934,1)" x="-1.056" y="0" font-size="16.9">100mM</text>
</svg>
</body></html>
